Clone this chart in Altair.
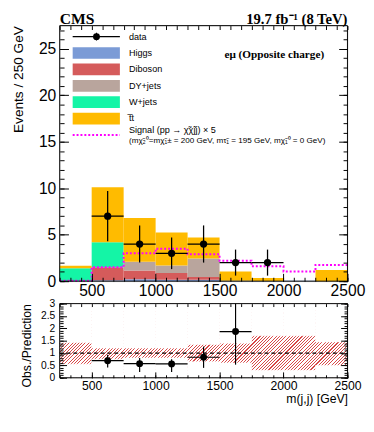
import altair as alt
import pandas as pd

# ---------------- data ----------------
bin_lo = [250, 500, 750, 1000, 1250, 1500, 1750, 2000, 2250]
bin_hi = [500, 750, 1000, 1250, 1500, 1750, 2000, 2250, 2500]

processes = ["Higgs", "Diboson", "DY+jets", "W+jets", "tt"]          # stack order, bottom -> top
process_labels = ["Higgs", "Diboson", "DY+jets", "W+jets", "t\u0305t"]
process_colors = ["#7b9bd6", "#d55b5b", "#b9a59d", "#14f5a6", "#ffbb00"]

higgs   = [0.00, 0.10, 0.20, 0.15, 0.15, 0.05, 0.03, 0.05, 0.00]
diboson = [0.00, 1.40, 0.96, 0.73, 0.30, 0.00, 0.00, 0.00, 0.00]
dyjets  = [0.00, 0.00, 0.94, 0.82, 2.00, 0.00, 0.00, 0.00, 0.00]
wjets   = [1.40, 2.70, 0.00, 0.00, 0.00, 0.00, 0.00, 0.00, 0.00]
ttbar   = [0.25, 5.90, 4.70, 3.55, 2.24, 1.00, 0.32, 0.00, 1.20]
signal  = [0.05, 1.50, 3.00, 3.50, 2.90, 2.20, 1.60, 1.05, 1.75]

data_center = [625, 875, 1125, 1375, 1625, 1875]
data_count  = [7, 4, 3, 4, 2, 2]
data_err_lo = [4.3, 2.0, 1.3, 2.0, 0.6, 0.6]
data_err_hi = [9.7, 6.0, 4.7, 6.0, 3.4, 3.4]

ratio_center = [625, 875, 1125, 1375, 1625]
ratio_value  = [0.69, 0.57, 0.56, 0.83, 1.87]
ratio_err_lo = [0.42, 0.23, 0.23, 0.40, 0.53]
ratio_err_hi = [0.93, 0.80, 0.75, 1.26, 3.00]

unc_lo = [0.55, 0.75, 0.80, 0.80, 0.65, 0.60, 0.30, 0.30, 0.50]
unc_hi = [1.43, 1.20, 1.20, 1.20, 1.35, 1.40, 1.70, 1.70, 1.45]

x_major_ticks = [500, 1000, 1500, 2000, 2500]
x_minor_ticks = [round(250 + k * 500 / 6, 3) for k in range(28)]
y_major_ticks_top = [0, 5, 10, 15, 20, 25]
y_minor_ticks_top = list(range(0, 28))
y_major_ticks_ratio = [0, 0.5, 1, 1.5, 2, 2.5, 3]
y_minor_ticks_ratio = [round(0.1 * k, 1) for k in range(31)]

signal_label_1 = "Signal (pp \u2192 \u03c7\u0303\u03c7\u0303jj) \u00d7 5"
signal_label_2 = ("(m\u03c7\u0303\u2082\u2070=m\u03c7\u0303\u2081\u00b1 = 200 GeV, "
                  "m\u03c4\u0303\u2081 = 195 GeV, m\u03c7\u0303\u2081\u2070 = 0 GeV)")

# ---------------- layout / style ----------------
W, H_TOP, H_BOT = 295, 262, 76
X_DOM = [250, 2500]
Y_DOM_TOP = [0, 27.5]
Y_DOM_BOT = [0, 3]
FONT = "Liberation Sans"
SERIF = "Liberation Serif"
HATCH = "#d84848"

xs = alt.Scale(domain=X_DOM, nice=False, zero=False)
ys_top = alt.Scale(domain=Y_DOM_TOP, nice=False, zero=False)
ys_bot = alt.Scale(domain=Y_DOM_BOT, nice=False, zero=False)


def taxis(orient, values, size, **kw):
    base = dict(orient=orient, values=values, tickSize=size, offset=-size, domain=False,
                grid=False, labels=False, ticks=True, tickColor="black", tickWidth=1,
                zindex=1, title=None, labelFont=FONT, labelColor="black",
                titleFont=FONT, titleColor="black", titleFontWeight="normal")
    base.update(kw)
    return alt.Axis(**base)


one = pd.DataFrame({"k": [0]})

# ---------------- top panel ----------------
rows = []
for j, (name, vals) in enumerate(zip(processes, [higgs, diboson, dyjets, wjets, ttbar])):
    for i in range(len(bin_lo)):
        rows.append(dict(lo=bin_lo[i], hi=bin_hi[i], proc=name, order=j, val=vals[i]))
stack_df = pd.DataFrame(rows)

color_scale = alt.Scale(domain=processes, range=process_colors)

stack = alt.Chart(stack_df).transform_window(
    cum="sum(val)", groupby=["lo"], sort=[alt.SortField("order")], frame=[None, 0]
).transform_calculate(base="datum.cum - datum.val").mark_rect().encode(
    x=alt.X("lo:Q", scale=xs, axis=taxis("bottom", x_major_ticks, 8, labels=True, format="d",
                                         labelFontSize=16, labelPadding=2, labelFlush=False,
                                         labelOverlap=False)),
    x2="hi:Q",
    y=alt.Y("base:Q", scale=ys_top,
            axis=taxis("left", y_major_ticks_top, 9, labels=True, labelFontSize=16, labelPadding=4,
                       labelOverlap=False, title="Events / 250 GeV", titleAnchor="end",
                       titleFontSize=14, titleX=-44)),
    y2="cum:Q",
    color=alt.Color("proc:N", scale=color_scale, legend=None),
)

sig_df = pd.DataFrame({"x": bin_lo + [bin_hi[-1]], "y": signal + [signal[-1]]})
sig = alt.Chart(sig_df).mark_line(interpolate="step-after", color="#ff00ff",
                                  strokeDash=[2, 2], strokeWidth=2).encode(
    x=alt.X("x:Q", scale=xs, axis=taxis("bottom", x_minor_ticks, 4)),
    y=alt.Y("y:Q", scale=ys_top, axis=taxis("left", y_minor_ticks_top, 4.5)),
)

data_df = pd.DataFrame({"x": data_center, "y": data_count, "lo": data_err_lo, "hi": data_err_hi,
                        "xlo": bin_lo[1:7], "xhi": bin_hi[1:7]})
data_v = alt.Chart(data_df).mark_rule(color="black", strokeWidth=1.3).encode(
    x=alt.X("x:Q", scale=xs, axis=taxis("top", x_minor_ticks, 4)),
    y=alt.Y("lo:Q", scale=ys_top, axis=taxis("right", y_major_ticks_top, 9)),
    y2="hi:Q",
)
data_h = alt.Chart(data_df).mark_rule(color="black", strokeWidth=1.3).encode(
    x=alt.X("xlo:Q", scale=xs, axis=None),
    x2="xhi:Q",
    y=alt.Y("y:Q", scale=ys_top, axis=taxis("right", y_minor_ticks_top, 4.5)),
)
data_p = alt.Chart(data_df).mark_circle(size=55, color="black", opacity=1).encode(
    x=alt.X("x:Q", scale=xs, axis=None),
    y=alt.Y("y:Q", scale=ys_top, axis=None),
)

# legend (drawn inside the plot, rows placed by index)
ROW0, ROWSTEP = 11.3, 16.8
leg_box_df = pd.DataFrame({"proc": processes, "row": list(range(1, len(processes) + 1))})
leg_box = alt.Chart(leg_box_df).transform_calculate(
    yt=f"{ROW0} + {ROWSTEP} * datum.row - 6", yb=f"{ROW0} + {ROWSTEP} * datum.row + 6"
).mark_rect().encode(
    x=alt.value(13.3), x2=alt.value(61.7),
    y=alt.Y("yt:Q", scale=None, axis=None), y2="yb:Q",
    color=alt.Color("proc:N", scale=color_scale, legend=None),
)
leg_txt_df = pd.DataFrame({"label": ["data"] + process_labels,
                           "row": list(range(0, len(process_labels) + 1))})
leg_txt = alt.Chart(leg_txt_df).transform_calculate(
    yc=f"{ROW0} + {ROWSTEP} * datum.row"
).mark_text(align="left", baseline="middle", font=FONT, fontSize=9.3, color="black").encode(
    x=alt.value(71), y=alt.Y("yc:Q", scale=None, axis=None), text="label:N",
)
leg_data_h = alt.Chart(one).mark_rule(color="black", strokeWidth=1.2).encode(
    x=alt.value(13.3), x2=alt.value(61.7), y=alt.value(ROW0))
leg_data_v = alt.Chart(one).mark_rule(color="black", strokeWidth=1.2).encode(
    x=alt.value(37.7), y=alt.value(ROW0 - 4), y2=alt.value(ROW0 + 4))
leg_data_p = alt.Chart(one).mark_circle(size=50, color="black", opacity=1).encode(
    x=alt.value(37.7), y=alt.value(ROW0))
sig_row = ROW0 + ROWSTEP * 6
leg_sig = alt.Chart(one).mark_rule(color="#ff00ff", strokeDash=[2, 2], strokeWidth=2).encode(
    x=alt.value(13.3), x2=alt.value(61.7), y=alt.value(sig_row))
leg_sig_t1 = alt.Chart(one).mark_text(align="left", baseline="middle", font=FONT, fontSize=9.3,
                                      color="black").encode(
    x=alt.value(71), y=alt.value(sig_row - 4.8), text=alt.value(signal_label_1))
leg_sig_t2 = alt.Chart(one).mark_text(align="left", baseline="middle", font=FONT, fontSize=8.3,
                                      color="black").encode(
    x=alt.value(71), y=alt.value(sig_row + 6.2), text=alt.value(signal_label_2))

cms = alt.Chart(one).mark_text(align="left", baseline="alphabetic", font=SERIF, fontSize=16,
                               fontWeight="bold", color="black").encode(
    x=alt.value(0), y=alt.value(-1.5), text=alt.value("CMS"))
lumi = alt.Chart(one).mark_text(align="right", baseline="alphabetic", font=SERIF, fontSize=15,
                                fontWeight="bold", color="black").encode(
    x=alt.value(W), y=alt.value(-1.5), text=alt.value("19.7 fb\u207b\u00b9 (8 TeV)"))
chan = alt.Chart(one).mark_text(align="center", baseline="middle", font=SERIF, fontSize=11.5,
                                fontWeight="bold", color="black").encode(
    x=alt.value(220), y=alt.value(30.7), text=alt.value("e\u03bc (Opposite charge)"))

frame_top = alt.Chart(one).mark_rect(fillOpacity=0, stroke="black", strokeWidth=1).encode(
    x=alt.value(0), x2=alt.value(W), y=alt.value(0), y2=alt.value(H_TOP))

top = alt.layer(
    stack, sig, data_v, data_h, data_p,
    leg_box, leg_txt, leg_data_h, leg_data_v, leg_data_p, leg_sig, leg_sig_t1, leg_sig_t2,
    cms, lumi, chan, frame_top,
).resolve_axis(x="independent", y="independent").properties(width=W, height=H_TOP)

# ---------------- ratio panel ----------------
r = H_BOT / W
kk = (1 + r) / (1 + r * r)
N = 112
frac = 0.32
stops = []
for i in range(N):
    a = round(i / N, 6)
    b = round((i + frac) / N, 6)
    c = round((i + 1) / N, 6)
    stops += [{"offset": a, "color": HATCH}, {"offset": b, "color": HATCH},
              {"offset": b, "color": "white"}, {"offset": c, "color": "white"}]
hatch_fill = {"gradient": "linear", "x1": 0, "y1": 0, "x2": round(kk, 5), "y2": round(kk * r, 5),
              "stops": stops}

hatch = alt.Chart(one).mark_rect(fill=hatch_fill).encode(
    x=alt.value(0), x2=alt.value(W), y=alt.value(0), y2=alt.value(H_BOT))

mask_rows = []
for i in range(len(bin_lo)):
    mask_rows.append(dict(lo=bin_lo[i], hi=bin_hi[i], y0=Y_DOM_BOT[0], y1=unc_lo[i]))
    mask_rows.append(dict(lo=bin_lo[i], hi=bin_hi[i], y0=unc_hi[i], y1=Y_DOM_BOT[1]))
mask_df = pd.DataFrame(mask_rows)
masks = alt.Chart(mask_df).mark_rect(color="white", stroke="white", strokeWidth=0.6).encode(
    x=alt.X("lo:Q", scale=xs, axis=taxis("bottom", x_major_ticks, 6, labels=True, format="d",
                                         labelFontSize=12.5, labelPadding=2, labelFlush=False,
                                         labelOverlap=False, title="m(j,j) [GeV]",
                                         titleAnchor="end", titleFontSize=12.5, titleY=21)),
    x2="hi:Q",
    y=alt.Y("y0:Q", scale=ys_bot,
            axis=taxis("left", y_major_ticks_ratio, 7, labels=True, format="~g", labelFontSize=10.5,
                       labelPadding=5, labelOverlap=False, title="Obs./Prediction",
                       titleAnchor="end", titleFontSize=12.5, titleX=-34)),
    y2="y1:Q",
)

ref = alt.Chart(pd.DataFrame({"ref": [1.0]})).mark_rule(
    color="black", strokeDash=[4, 3], strokeWidth=1.2).encode(
    x=alt.value(0), x2=alt.value(W), y=alt.Y("ref:Q", scale=ys_bot, axis=None))

ratio_df = pd.DataFrame({"x": ratio_center, "y": ratio_value, "lo": ratio_err_lo,
                         "hi": ratio_err_hi, "xlo": bin_lo[1:6], "xhi": bin_hi[1:6]})
ratio_v = alt.Chart(ratio_df).mark_rule(color="black", strokeWidth=1.2).encode(
    x=alt.X("x:Q", scale=xs, axis=taxis("bottom", x_minor_ticks, 3)),
    y=alt.Y("lo:Q", scale=ys_bot, axis=taxis("left", y_minor_ticks_ratio, 3.5)),
    y2="hi:Q",
)
ratio_h = alt.Chart(ratio_df).mark_rule(color="black", strokeWidth=1.2).encode(
    x=alt.X("xlo:Q", scale=xs, axis=taxis("top", x_minor_ticks, 3)),
    x2="xhi:Q",
    y=alt.Y("y:Q", scale=ys_bot, axis=taxis("right", y_major_ticks_ratio, 7)),
)
ratio_p = alt.Chart(ratio_df).mark_circle(size=50, color="black", opacity=1).encode(
    x=alt.X("x:Q", scale=xs, axis=None),
    y=alt.Y("y:Q", scale=ys_bot, axis=taxis("right", y_minor_ticks_ratio, 3.5)),
)
frame_bot = alt.Chart(one).mark_rect(fillOpacity=0, stroke="black", strokeWidth=1).encode(
    x=alt.value(0), x2=alt.value(W), y=alt.value(0), y2=alt.value(H_BOT))

bottom = alt.layer(
    hatch, masks, ref, ratio_v, ratio_h, ratio_p, frame_bot
).resolve_axis(x="independent", y="independent").properties(width=W, height=H_BOT)

chart = alt.vconcat(top, bottom, spacing=23, bounds="flush").properties(
    padding={"left": 3, "top": -2, "right": 0, "bottom": 0}
).configure_view(stroke=None).configure(background="white")

chart.save("out.html", embed_options={"renderer": "svg", "actions": False})
